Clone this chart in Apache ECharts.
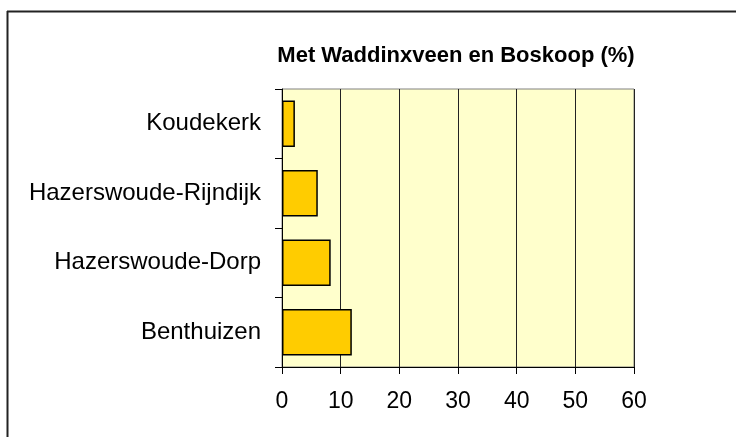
<!DOCTYPE html>
<html><head><meta charset="utf-8">
<script src="https://cdn.jsdelivr.net/npm/echarts@6/dist/echarts.min.js"></script>
<style>html,body{margin:0;padding:0;background:#fff}#c{width:736px;height:437px}</style>
</head><body><div id="c"></div>
<script>
const categories = ['Benthuizen', 'Hazerswoude-Dorp', 'Hazerswoude-Rijndijk', 'Koudekerk'];
const values = [11.9, 8.3, 6.1, 2.2];
const titleText = 'Met Waddinxveen en Boskoop (%)';

const chart = echarts.init(document.getElementById('c'), null, {renderer: 'canvas'});
chart.setOption({
  animation: false,
  backgroundColor: '#ffffff',
  title: {
    text: titleText, left: 451, top: 40, textAlign: 'center',
    textStyle: {fontFamily: 'Liberation Sans, Arial', fontWeight: 'bold', fontSize: 22, color: '#000'}
  },
  graphic: [
    {type: 'line', shape: {x1: 7, y1: 11.5, x2: 736, y2: 11.5}, style: {stroke: '#222', lineWidth: 2}, z: 10},
    {type: 'line', shape: {x1: 7.5, y1: 11, x2: 7.5, y2: 437}, style: {stroke: '#222', lineWidth: 2}, z: 10}
  ],
  grid: {left: 282, top: 89, right: 102, bottom: 70, show: true, backgroundColor: '#FFFFCC', borderColor: '#808080', borderWidth: 1},
  xAxis: {
    type: 'value', min: 0, max: 60, interval: 10,
    axisLine: {show: true, lineStyle: {color: '#000', width: 1}},
    axisTick: {show: true, length: 7, lineStyle: {color: '#000'}},
    axisLabel: {margin: 23, fontFamily: 'Liberation Sans, Arial', fontSize: 23, color: '#000'},
    splitLine: {show: true, lineStyle: {color: '#222', width: 1}}
  },
  yAxis: {
    type: 'category', data: categories,
    axisLine: {show: true, lineStyle: {color: '#000', width: 1}},
    axisTick: {show: true, length: 7, lineStyle: {color: '#000'}},
    axisLabel: {margin: 21, padding: [0, 0, 4, 0], fontFamily: 'Liberation Sans, Arial', fontSize: 24, color: '#000'},
    splitLine: {show: false}
  },
  series: [{
    type: 'bar', data: values, barCategoryGap: '33%',
    itemStyle: {color: '#FFCC00', borderColor: '#000', borderWidth: 1.5}
  }]
});
</script></body></html>
